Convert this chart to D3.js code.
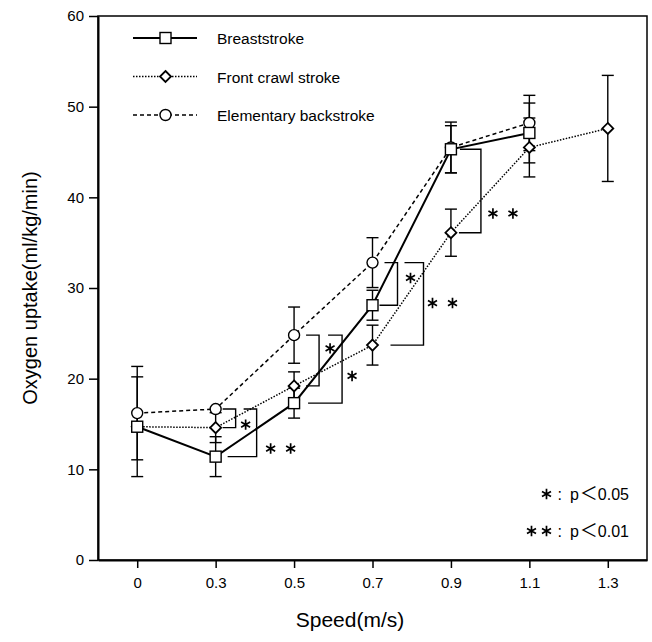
<!DOCTYPE html>
<html>
<head>
<meta charset="utf-8">
<script src="https://cdn.jsdelivr.net/npm/d3@7"></script>
<style>
  body { margin: 0; background: #fff; }
  text { font-family: "Liberation Sans", Arial, sans-serif; fill: #000; }
</style>
</head>
<body>
<svg id="chart" width="652" height="642"></svg>
<script>
// values (ml/kg/min), one entry per speed
const speeds = ["0", "0.3", "0.5", "0.7", "0.9", "1.1", "1.3"];
const yTicks = [0, 10, 20, 30, 40, 50, 60];

const breaststroke   = [14.7, 11.4, 17.3, 28.1, 45.3, 47.1];
const breaststrokeSD = [5.5, 2.2, 1.65, 1.65, 2.6, 3.3];

const frontCrawl   = [14.7, 14.6, 19.2, 23.7, 36.1, 45.5, 47.6];
const frontCrawlSD = [null, 1.65, 1.55, 2.2, 2.6, 3.25, 5.85];

const backstroke   = [16.2, 16.65, 24.8, 32.8, 45.5, 48.2];
const backstrokeSD = [5.15, null, 3.1, 2.75, 2.8, 3.05];

// significance brackets: which two series are compared at which speed
const brackets = [
  { speed: "0.3", upper: "back",   lower: "crawl",  stars: 1 },
  { speed: "0.3", upper: "back",   lower: "breast", stars: 2 },
  { speed: "0.5", upper: "back",   lower: "crawl",  stars: 1 },
  { speed: "0.5", upper: "back",   lower: "breast", stars: 1 },
  { speed: "0.7", upper: "back",   lower: "breast", stars: 1 },
  { speed: "0.7", upper: "back",   lower: "crawl",  stars: 2 },
  { speed: "0.9", upper: "breast", lower: "crawl",  stars: 2 }
];
const pLegend = [
  { stars: 1, value: "0.05" },
  { stars: 2, value: "0.01" }
];

// bracket drawing offsets (px from the speed position)
const bracketLayout = [
  { topArm: 7,  vx: 20, botArm: 7,  lx: 30, ly: 0.84 },
  { topArm: 28, vx: 41, botArm: 12, lx: 65, ly: 0.83 },
  { topArm: 12, vx: 25, botArm: 12, lx: 36, ly: 0.26 },
  { topArm: 34, vx: 48, botArm: 14, lx: 58, ly: 0.60 },
  { topArm: 12, vx: 25, botArm: 7,  lx: 38, ly: 0.36 },
  { topArm: 32, vx: 51, botArm: 18, lx: 70, ly: 0.49 },
  { topArm: 9,  vx: 30, botArm: 8,  lx: 52, ly: 0.77 }
];

const series = [
  { key: "back",   name: "Elementary backstroke", values: backstroke,   sd: backstrokeSD,   marker: "circle",  dash: "4,3",     width: 1.5 },
  { key: "crawl",  name: "Front crawl stroke",    values: frontCrawl,   sd: frontCrawlSD,   marker: "diamond", dash: "1.5,1.5", width: 1.5 },
  { key: "breast", name: "Breaststroke",          values: breaststroke, sd: breaststrokeSD, marker: "square",  dash: null,      width: 2 }
];
const legendOrder = ["breast", "crawl", "back"];

const svg = d3.select("#chart");
const margin = { top: 16, right: 5, bottom: 82, left: 98 };
const W = 652, H = 642;
const plotW = W - margin.left - margin.right;
const plotH = H - margin.top - margin.bottom;

const x = d3.scalePoint().domain(speeds).range([margin.left, margin.left + plotW]).padding(0.5);
const y = d3.scaleLinear().domain([0, 60]).range([margin.top + plotH, margin.top]);

// frame
svg.append("rect")
  .attr("x", margin.left).attr("y", margin.top)
  .attr("width", plotW).attr("height", plotH)
  .attr("fill", "none").attr("stroke", "#000").attr("stroke-width", 1.5);

const yAxis = svg.append("g")
  .attr("transform", `translate(${margin.left},0)`)
  .call(d3.axisLeft(y).tickValues(yTicks).tickSize(9).tickPadding(5).tickSizeOuter(0));
const xAxis = svg.append("g")
  .attr("transform", `translate(0,${margin.top + plotH})`)
  .call(d3.axisBottom(x).tickSize(8).tickPadding(9).tickSizeOuter(0));
[yAxis, xAxis].forEach(g => {
  g.select(".domain").attr("stroke-width", 2);
  g.selectAll(".tick line").attr("stroke-width", 1.5);
  g.selectAll("text").attr("font-size", 15).attr("font-family", "Liberation Sans, Arial, sans-serif");
});

svg.append("text")
  .attr("x", 350).attr("y", 627)
  .attr("text-anchor", "middle").attr("font-size", 21)
  .text("Speed(m/s)");
svg.append("text")
  .attr("transform", `translate(37,${margin.top + plotH / 2}) rotate(-90)`)
  .attr("text-anchor", "middle").attr("font-size", 20)
  .text("Oxygen uptake(ml/kg/min)");

function drawMarker(g, type, cx, cy) {
  const s = 5.5;
  if (type === "square") {
    g.append("rect").attr("x", cx - s).attr("y", cy - s).attr("width", 2 * s).attr("height", 2 * s)
      .attr("fill", "#fff").attr("stroke", "#000").attr("stroke-width", 1.4);
  } else if (type === "circle") {
    g.append("circle").attr("cx", cx).attr("cy", cy).attr("r", s)
      .attr("fill", "#fff").attr("stroke", "#000").attr("stroke-width", 1.4);
  } else {
    g.append("path").attr("d", `M${cx},${cy - s}L${cx + s},${cy}L${cx},${cy + s}L${cx - s},${cy}Z`)
      .attr("fill", "#fff").attr("stroke", "#000").attr("stroke-width", 1.8);
  }
}

// six-armed asterisk, drawn as strokes so it looks like the printed one
function drawStars(g, cx, cy, n, gap) {
  const r = 5.2;
  for (let k = 0; k < n; k++) {
    const sx = cx + (k - (n - 1) / 2) * gap;
    let d = "";
    [90, 30, 150].forEach(a => {
      const dx = r * Math.cos(a * Math.PI / 180), dy = r * Math.sin(a * Math.PI / 180);
      d += `M${sx - dx},${cy - dy}L${sx + dx},${cy + dy}`;
    });
    g.append("path").attr("d", d).attr("stroke", "#000").attr("stroke-width", 1.7).attr("fill", "none");
  }
}

// lines
const line = d3.line().x((d, i) => x(speeds[i])).y(d => y(d));
series.forEach(s => {
  svg.append("path")
    .attr("d", line(s.values))
    .attr("fill", "none").attr("stroke", "#000")
    .attr("stroke-width", s.width)
    .attr("stroke-dasharray", s.dash);
});

// error bars
const errG = svg.append("g").attr("stroke", "#000").attr("stroke-width", 1.4);
series.forEach(s => {
  s.values.forEach((v, i) => {
    const sd = s.sd[i];
    if (sd == null) return;
    const cx = x(speeds[i]);
    errG.append("line").attr("x1", cx).attr("x2", cx).attr("y1", y(v - sd)).attr("y2", y(v + sd));
    [v - sd, v + sd].forEach(e => {
      errG.append("line").attr("x1", cx - 6).attr("x2", cx + 6).attr("y1", y(e)).attr("y2", y(e));
    });
  });
});

// markers
const markG = svg.append("g");
series.forEach(s => {
  s.values.forEach((v, i) => drawMarker(markG, s.marker, x(speeds[i]), y(v)));
});

// significance brackets
const byKey = {};
series.forEach(s => byKey[s.key] = s);
const brG = svg.append("g");
brackets.forEach((b, i) => {
  const L = bracketLayout[i];
  const idx = speeds.indexOf(b.speed);
  const cx = x(b.speed);
  const yt = y(byKey[b.upper].values[idx]);
  const yb = y(byKey[b.lower].values[idx]);
  brG.append("path")
    .attr("d", `M${cx + L.topArm},${yt}H${cx + L.vx}V${yb}H${cx + L.botArm}`)
    .attr("fill", "none").attr("stroke", "#000").attr("stroke-width", 1.4);
  drawStars(brG, cx + L.lx, yt + (yb - yt) * L.ly, b.stars, 20);
});

// p-value key
pLegend.forEach((p, i) => {
  const ty = 500 + i * 37;
  const t = svg.append("text")
    .attr("x", 629).attr("y", ty)
    .attr("text-anchor", "end")
    .attr("font-size", 16);
  t.append("tspan").text(":");
  t.append("tspan").attr("dx", 8).text("p");
  t.append("tspan").attr("font-family", "Noto Sans CJK JP").attr("font-size", 18).attr("dx", 1).text("＜");
  t.append("tspan").text(p.value);
  const bb = t.node().getBBox();
  drawStars(svg, bb.x - 11 - (p.stars - 1) * 7.5, ty - 6, p.stars, 15);
});

// series legend
const legend = svg.append("g");
legendOrder.forEach((k, i) => {
  const s = byKey[k];
  const ly = 38 + i * 38.5;
  legend.append("line")
    .attr("x1", 133).attr("x2", 197).attr("y1", ly).attr("y2", ly)
    .attr("stroke", "#000").attr("stroke-width", s.width)
    .attr("stroke-dasharray", s.dash);
  drawMarker(legend, s.marker, 165.5, ly);
  legend.append("text")
    .attr("x", 217).attr("y", ly + 6)
    .attr("font-size", 15.5)
    .text(s.name);
});
</script>
</body>
</html>
